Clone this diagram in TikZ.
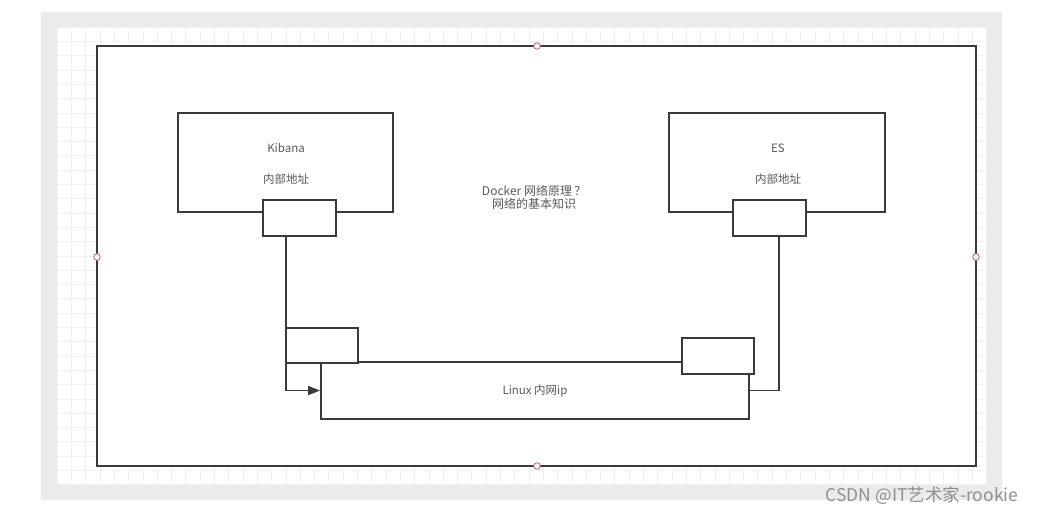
\documentclass[tikz,border=0pt]{standalone}
\usepackage{fontspec}
\setmainfont{Noto Sans CJK SC}
\usetikzlibrary{arrows.meta}
\definecolor{bandgray}{HTML}{EBEBEB}
\definecolor{gridline}{HTML}{F1F1F1}
\definecolor{linecol}{HTML}{3A3A3A}
\definecolor{txtcol}{HTML}{5A5A5A}
\definecolor{handle}{HTML}{C8707E}
\definecolor{wmark}{HTML}{8F8F8F}
\tikzset{
  boxline/.style={draw=linecol, line width=1.8pt},
  portbox/.style={boxline, fill=white, minimum width=73pt, minimum height=36pt, inner sep=0pt},
  wire/.style={draw=linecol, line width=1.8pt},
  label/.style={text=txtcol, font=\fontsize{11.5}{14}\selectfont, inner sep=0pt},
  handlept/.style={circle, draw=handle, fill=white, line width=0.9pt, minimum size=6.5pt, inner sep=0pt}
}
\begin{document}
\begin{tikzpicture}[x=1pt,y=-1pt]
\useasboundingbox (0,0) rectangle (1040,515);
\fill[white] (0,0) rectangle (1040,515);
% gray band and grid
\fill[bandgray] (41,12) rectangle (1002,500);
\fill[white] (57,27) rectangle (987,484);
\begin{scope}
\clip (57,27) rectangle (987,484);
\foreach \i in {0,...,65} {
  \draw[gridline, line width=0.6pt] ({57+14.3*\i},27) -- ({57+14.3*\i},484);
}
\foreach \j in {0,...,32} {
  \draw[gridline, line width=0.6pt] (57,{27+14.3*\j}) -- (987,{27+14.3*\j});
}
\end{scope}
% main frame
\node[boxline, fill=white, minimum width=879pt, minimum height=420pt, inner sep=0pt] (frame) at (536.5,256) {};
% Kibana
\node[boxline, minimum width=215pt, minimum height=99pt, inner sep=0pt] (kibana) at (285.5,162.5) {};
\node[label] (kibanaT) at (286,148) {Kibana};
\node[label] (kibanaA) at (286,179) {内部地址};
\node[portbox] (kport) at (299.5,218) {};
% ES
\node[boxline, minimum width=216pt, minimum height=99pt, inner sep=0pt] (es) at (777,162.5) {};
\node[label] (esT) at (778,148) {ES};
\node[label] (esA) at (778,179) {内部地址};
\node[portbox] (eport) at (769.5,218) {};
% center text
\node[label, align=center, font=\fontsize{12}{13.5}\selectfont] (docker) at (534,197.5) {Docker 网络原理\,？\\网络的基本知识};
% Linux
\node[boxline, minimum width=428pt, minimum height=57pt, inner sep=0pt] (linux) at (535,390.5) {};
\node[label] (linuxT) at (535,391) {Linux 内网ip};
\node[portbox, minimum width=72pt, minimum height=35pt] (lport) at (322,345.5) {};
\node[portbox, minimum width=72pt, minimum height=36pt] (rport) at (718,356) {};
% wires
\coordinate (kdrop) at (286,236);
\coordinate (edrop) at (779,236);
\draw[wire, -{Triangle[length=12pt,width=9pt]}] (kdrop) |- (linux.west);
\draw[wire] (edrop) |- (linux.east);
% handles
\node[handlept] (h1) at (537,46) {};
\node[handlept] (h2) at (97,257) {};
\node[handlept] (h3) at (976,257) {};
\node[handlept] (h4) at (537,466) {};
% watermark
\node[text=wmark, font=\fontsize{17.5}{19}\selectfont, inner sep=0pt] (wm) at (922,496) {CSDN @IT艺术家-rookie};
\end{tikzpicture}
\end{document}
